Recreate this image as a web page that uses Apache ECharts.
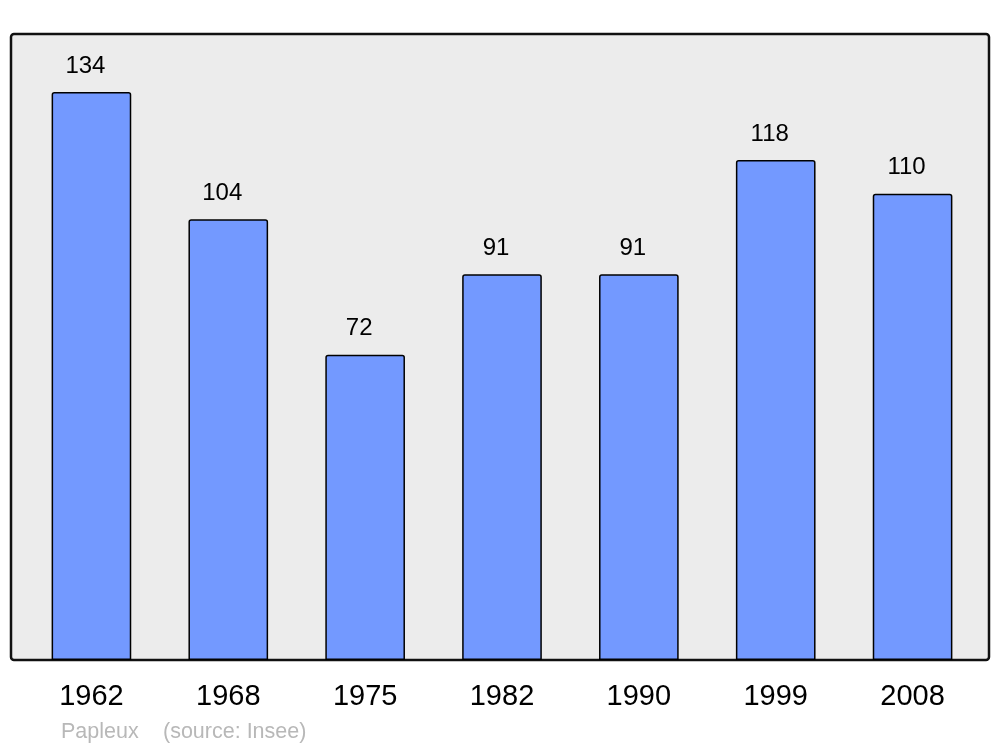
<!DOCTYPE html>
<html><head><meta charset="utf-8">
<script src="https://cdn.jsdelivr.net/npm/echarts@6/dist/echarts.min.js"></script>
<style>html,body{margin:0;padding:0;background:#fff}#c{width:1000px;height:747px}</style>
</head><body><div id="c"></div>
<script>
const years = ['1962','1968','1975','1982','1990','1999','2008'];
const population = [134,104,72,91,91,118,110];
const footerAuthor = 'Papleux';
const footerSource = '(source: Insee)';

const chart = echarts.init(document.getElementById('c'), null, {renderer:'canvas'});
const FONT = '"Liberation Sans", Arial, sans-serif';
chart.setOption({
  animation:false,
  backgroundColor:'#ffffff',
  title:[
    {text:footerAuthor, left:61, top:721, padding:0, textStyle:{fontFamily:FONT, fontSize:21.5, fontWeight:'normal', color:'#b8b8b8'}},
    {text:footerSource, left:163, top:721, padding:0, textStyle:{fontFamily:FONT, fontSize:21.5, fontWeight:'normal', color:'#b8b8b8'}}
  ],
  graphic:[{
    type:'rect', z:0, silent:true,
    shape:{x:11, y:34, width:978, height:626, r:3},
    style:{fill:'#ececec', stroke:'#111111', lineWidth:2.5}
  }],
  grid:{left:23, right:19, top:34, bottom:87},
  xAxis:{
    type:'category', data:years,
    axisLine:{show:false}, axisTick:{show:false},
    axisLabel:{fontFamily:FONT, fontSize:29, color:'#000', margin:22}
  },
  yAxis:{type:'value', min:0, max:147.7, show:false, splitLine:{show:false}},
  series:[{
    type:'bar', data:population, barWidth:'58.2%', z:5,
    itemStyle:{color:'#7399ff', borderColor:'#000', borderWidth:1.5, borderRadius:[2,2,0,0]},
    label:{show:true, position:'top', distance:14, offset:[-6,0], fontFamily:FONT, fontSize:24, color:'#000'}
  }]
});
</script></body></html>
